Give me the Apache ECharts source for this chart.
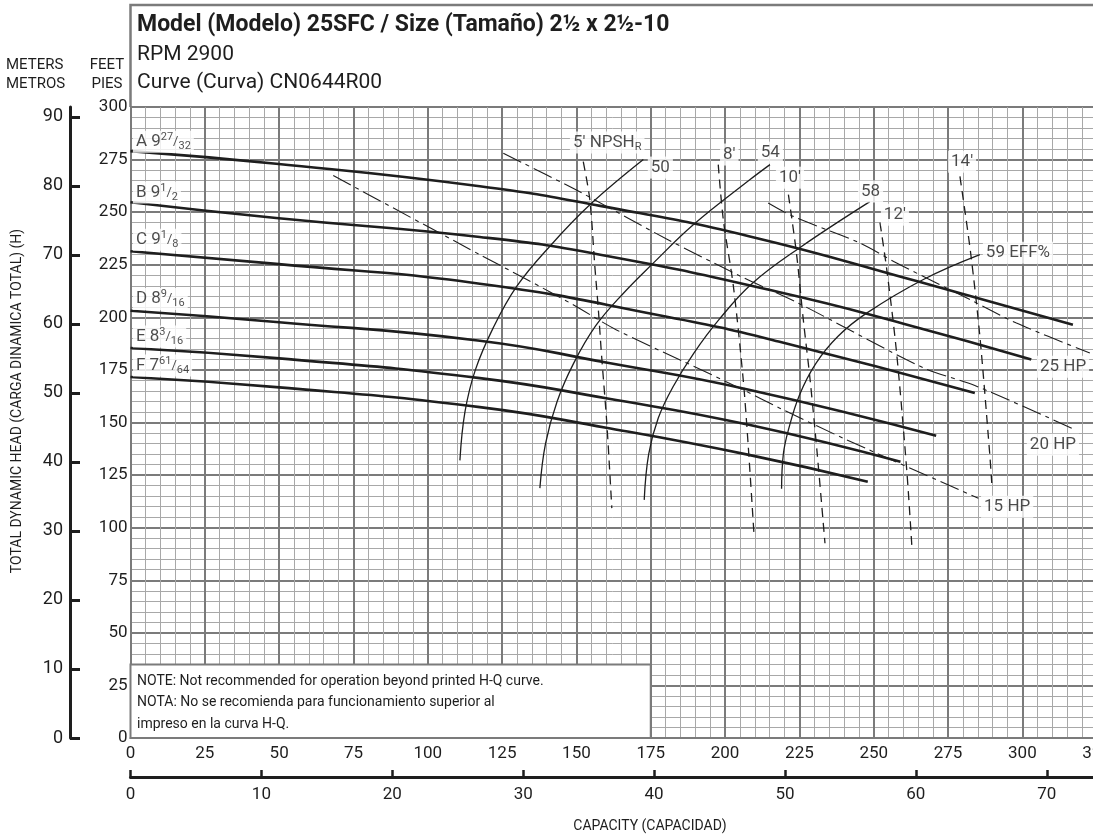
<!DOCTYPE html>
<html><head><meta charset="utf-8">
<script src="https://cdn.jsdelivr.net/npm/echarts@6/dist/echarts.min.js"></script>
<style>html,body{margin:0;padding:0;background:#fff}#c{width:1093px;height:839px}</style>
</head><body><div id="c"></div>
<script>
const FONT = 'Roboto, "Noto Sans", sans-serif';

// ---- axis ranges & ticks ----
const gpmMax = 325;          // capacity, US GPM
const feetMax = 300;         // head, feet
const GPM_PER_M3H = 4.40287;
const FT_PER_M = 3.28084;
const meterTicks = [0, 10, 20, 30, 40, 50, 60, 70, 80, 90];
const m3hTicks = [0, 10, 20, 30, 40, 50, 60, 70];

// ---- impeller H-Q curves [GPM, ft] ----
const impA = [[0,279],[49,273],[117.5,262.3],[158,253],[208,238.6],[265,217],[317,196.5]];
const impB = [[0,254.7],[49,247.2],[117.5,238.2],[158,229.8],[218,212],[260,197],[303,180]];
const impC = [[0,231.4],[49,225.4],[117.5,216],[180,200.4],[218,188.5],[284,164]];
const impD = [[0,203.1],[49,197.8],[117.5,188.9],[160,178.5],[208,165.6],[271,143.7]];
const impE = [[0,185.4],[49,180.6],[117.5,171.1],[160,161.5],[208,148.9],[259,131.3]];
const impF = [[0,171.6],[49,166.8],[117.5,157.3],[160,147.5],[208,134.6],[248,121.8]];

// ---- efficiency curves ----
const eff50 = [[110.8,132],[112.5,155],[116,175],[122,195],[129.9,214.7],[141,233.7],[154.6,253.6],[172.5,275]];
const eff54 = [[137.7,118.8],[139.6,140],[143.5,160],[149,178],[156.5,196],[165.5,211],[176,226],[189.3,244],[208.4,265.5],[215.1,272.6]];
const eff58 = [[172.8,113.2],[174.3,135],[177.5,152],[182.5,167],[189.5,183],[198,199],[209,216],[225,233],[248.7,255]];
const eff59 = [[219,118.5],[219.6,135],[221.3,146.5],[225,163],[230.5,178],[238,191],[247.6,202],[266.7,218],[285.7,229.8]];

// ---- NPSHr curves ----
const npsh5 = [[152.3,274],[154.5,256],[156.2,224],[157.3,205],[158.5,181],[160.2,150],[161.9,109.3]];
const npsh8 = [[197.7,272.6],[199.4,246.4],[202.8,214.7],[206.1,170.3],[207.8,138.6],[209.7,97.4]];
const npsh10 = [[221.3,258.3],[224,230.6],[226.3,199],[228.6,170.3],[231,135],[233.6,92.6]];
const npsh12 = [[252.1,245],[254.4,222.6],[257.7,183],[261.1,127.5],[262.8,91.8]];
const npsh14 = [[279,267],[282.6,230.6],[285.7,191],[289,135.4],[289.7,121.2]];

// ---- power lines ----
const hp15 = [[68.2,267.4],[117.5,229.8],[133.3,218],[148.9,206],[163.5,194],[186,179],[206,165.6],[218.4,156.8],[240.9,141.8],[285.2,114]];
const hp20 = [[125.4,278],[150,260.5],[180,237.5],[206,219],[225,206.5],[266.7,176],[284,167.6],[316.6,147.3]];
const hp25 = [[214.5,254.4],[222.9,248],[245.4,235.3],[257.7,225.8],[268.9,217.9],[282.4,208.4],[298,197.3],[322.7,183]];

// ---- curve labels: anchor [GPM, ft] (left-middle of label) ----
const curveLabelPos = [[0.8,283.5],[0.8,259.4],[0.8,236.9],[0.8,208.7],[0.8,190.9],[0.8,177.1],
  [147.8,283.1],[174,271.2],[198.3,277.4],[211,278.3],[217.1,266.4],[244.7,259.8],[252.4,248.8],[275,274],
  [286.7,230.7],[304.9,176.5],[301.5,139.4],[286.1,109.9]];
const curveLabelText = [
  '{n|A 9}{sup|27}{sl|/}{sub|32}', '{n|B 9}{sup|1}{sl|/}{sub|2}', '{n|C 9}{sup|1}{sl|/}{sub|8}',
  '{n|D 8}{sup|9}{sl|/}{sub|16}', '{n|E 8}{sup|3}{sl|/}{sub|16}', '{n|F 7}{sup|61}{sl|/}{sub|64}',
  "{n|5' NPSH}{sub|R}", '{n|50}', "{n|8'}", '{n|54}', "{n|10'}", '{n|58}', "{n|12'}", "{n|14'}",
  '{n|59 EFF%}', '{n|25 HP}', '{n|20 HP}', '{n|15 HP}'];

const noteBox = [[0, 0], [175, 35]];
const noteLines = ['NOTE: Not recommended for operation beyond printed H-Q curve.',
  'NOTA: No se recomienda para funcionamiento superior al', 'impreso en la curva H-Q.'];
const headerLines = ['Model (Modelo) 25SFC / Size (Tamaño) 2½ x 2½-10', 'RPM 2900', 'Curve (Curva) CN0644R00'];

const INK = '#1e1e1e';
const MAJOR = '#7b7b7b';
const MINOR = '#a8a8a8';

function lineSeries(name, data, width, type, sm) {
  return { name, type: 'line', data, showSymbol: false, symbol: 'none', smooth: sm || 0.3,
    xAxisIndex: 0, yAxisIndex: 0, silent: true, z: 3,
    lineStyle: { color: INK, width, type: type || 'solid' } };
}

const chart = echarts.init(document.getElementById('c'), null, { renderer: 'canvas' });

const series = [
  { name: 'note', type: 'line', data: [], xAxisIndex: 0, yAxisIndex: 0, silent: true, z: 2,
    markArea: { silent: true, itemStyle: { color: '#fff', borderColor: MAJOR, borderWidth: 2 },
      data: [[{ coord: noteBox[0] }, { coord: noteBox[1] }]] } },
  lineSeries('A', impA, 2.6, null, 0.5), lineSeries('B', impB, 2.6, null, 0.5), lineSeries('C', impC, 2.6, null, 0.5),
  lineSeries('D', impD, 2.6, null, 0.5), lineSeries('E', impE, 2.6, null, 0.5), lineSeries('F', impF, 2.6, null, 0.5),
  lineSeries('50', eff50, 1.3, null, 0.4), lineSeries('54', eff54, 1.3, null, 0.4), lineSeries('58', eff58, 1.3, null, 0.4), lineSeries('59', eff59, 1.3, null, 0.4),
  lineSeries("5'", npsh5, 1.3, [9, 6]), lineSeries("8'", npsh8, 1.3, [9, 6]), lineSeries("10'", npsh10, 1.3, [9, 6]),
  lineSeries("12'", npsh12, 1.3, [9, 6]), lineSeries("14'", npsh14, 1.3, [9, 6]),
  lineSeries('15HP', hp15, 1.1, [20, 5, 4, 5]), lineSeries('20HP', hp20, 1.1, [20, 5, 4, 5]), lineSeries('25HP', hp25, 1.1, [20, 5, 4, 5]),
  { name: 'labels', type: 'scatter', symbolSize: 0, silent: true, z: 6, xAxisIndex: 0, yAxisIndex: 0,
    data: curveLabelPos.map((p, i) => ({ value: p, label: { formatter: curveLabelText[i] } })),
    label: { show: true, position: 'right', distance: 0, backgroundColor: '#fff', padding: [1, 3, 1, 3],
      color: INK, fontFamily: FONT,
      rich: {
        n: { fontSize: 17, lineHeight: 20, fontFamily: FONT, color: INK },
        sup: { fontSize: 11, lineHeight: 12, verticalAlign: 'top', fontFamily: FONT, color: INK },
        sl: { fontSize: 13, lineHeight: 16, fontFamily: FONT, color: INK },
        sub: { fontSize: 11, lineHeight: 12, verticalAlign: 'bottom', fontFamily: FONT, color: INK }
      } } }
];

const option = {
  animation: false,
  backgroundColor: '#fff',
  grid: { left: 130.5, top: 107, right: -3.7, bottom: 101, containLabel: false, outerBoundsMode: 'none' },
  xAxis: [
    { type: 'value', min: 0, max: gpmMax, interval: 25, position: 'bottom',
      axisLine: { show: true, onZero: false, lineStyle: { color: MAJOR, width: 2 } },
      axisTick: { show: false },
      axisLabel: { margin: 7, fontSize: 17, color: INK, fontFamily: FONT, hideOverlap: false },
      splitLine: { show: true, lineStyle: { color: MAJOR, width: 2 } },
      minorTick: { show: false, splitNumber: 5 },
      minorSplitLine: { show: true, lineStyle: { color: MINOR, width: 1 } } },
    { type: 'value', min: 0, max: gpmMax / GPM_PER_M3H, position: 'bottom', offset: 39,
      axisLine: { show: true, onZero: false, lineStyle: { color: INK, width: 3 } },
      axisTick: { show: true, inside: true, length: 7, lineStyle: { color: INK, width: 2.5 }, customValues: m3hTicks },
      axisLabel: { margin: 9, fontSize: 17, color: INK, fontFamily: FONT, customValues: m3hTicks },
      splitLine: { show: false } }
  ],
  yAxis: [
    { type: 'value', min: 0, max: feetMax, interval: 25, position: 'left',
      axisLine: { show: true, onZero: false, lineStyle: { color: MAJOR, width: 2 } },
      axisTick: { show: false },
      axisLabel: { margin: 3, fontSize: 17, color: INK, fontFamily: FONT },
      splitLine: { show: true, lineStyle: { color: MAJOR, width: 2 } },
      minorTick: { show: false, splitNumber: 5 },
      minorSplitLine: { show: true, lineStyle: { color: MINOR, width: 1 } } },
    { type: 'value', min: 0, max: feetMax / FT_PER_M, position: 'left', offset: 60.5,
      axisLine: { show: true, onZero: false, lineStyle: { color: INK, width: 3 } },
      axisTick: { show: true, inside: true, length: 10, lineStyle: { color: INK, width: 3 }, customValues: meterTicks },
      axisLabel: { margin: 7, fontSize: 18, color: INK, fontFamily: FONT, customValues: meterTicks },
      splitLine: { show: false } }
  ],
  graphic: [
    { type: 'polyline', z: 10, shape: { points: [[130.5, 107], [130.5, 5], [1093, 5]] },
      style: { stroke: MAJOR, lineWidth: 2.5, fill: null } },
    { type: 'text', x: 137, y: 25, style: { text: headerLines[0], font: 'bold 23px ' + FONT, fill: INK, textVerticalAlign: 'middle' } },
    { type: 'text', x: 137, y: 55, style: { text: headerLines[1], font: '21px ' + FONT, fill: INK, textVerticalAlign: 'middle' } },
    { type: 'text', x: 137, y: 83, style: { text: headerLines[2], font: '21px ' + FONT, fill: INK, textVerticalAlign: 'middle' } },
    { type: 'text', x: 6, y: 65, style: { text: 'METERS', font: '15px ' + FONT, fill: INK, textVerticalAlign: 'middle' } },
    { type: 'text', x: 6, y: 84, style: { text: 'METROS', font: '15px ' + FONT, fill: INK, textVerticalAlign: 'middle' } },
    { type: 'text', x: 107, y: 65, style: { text: 'FEET', font: '15px ' + FONT, fill: INK, textAlign: 'center', textVerticalAlign: 'middle' } },
    { type: 'text', x: 107, y: 84, style: { text: 'PIES', font: '15px ' + FONT, fill: INK, textAlign: 'center', textVerticalAlign: 'middle' } },
    { type: 'text', x: 17, y: 401, rotation: Math.PI / 2,
      style: { text: 'TOTAL DYNAMIC HEAD (CARGA DINAMICA TOTAL) (H)', font: '14px ' + FONT, fill: INK, textAlign: 'center', textVerticalAlign: 'middle' } },
    { type: 'text', x: 650, y: 826,
      style: { text: 'CAPACITY (CAPACIDAD)', font: '14px ' + FONT, fill: INK, textAlign: 'center', textVerticalAlign: 'middle' } },
    { type: 'text', x: 137, y: 681, z: 10, style: { text: noteLines[0], font: '14px ' + FONT, fill: INK, textVerticalAlign: 'middle' } },
    { type: 'text', x: 137, y: 702, z: 10, style: { text: noteLines[1], font: '14px ' + FONT, fill: INK, textVerticalAlign: 'middle' } },
    { type: 'text', x: 137, y: 724, z: 10, style: { text: noteLines[2], font: '14px ' + FONT, fill: INK, textVerticalAlign: 'middle' } }
  ],
  series
};
chart.setOption(option);
</script></body></html>
